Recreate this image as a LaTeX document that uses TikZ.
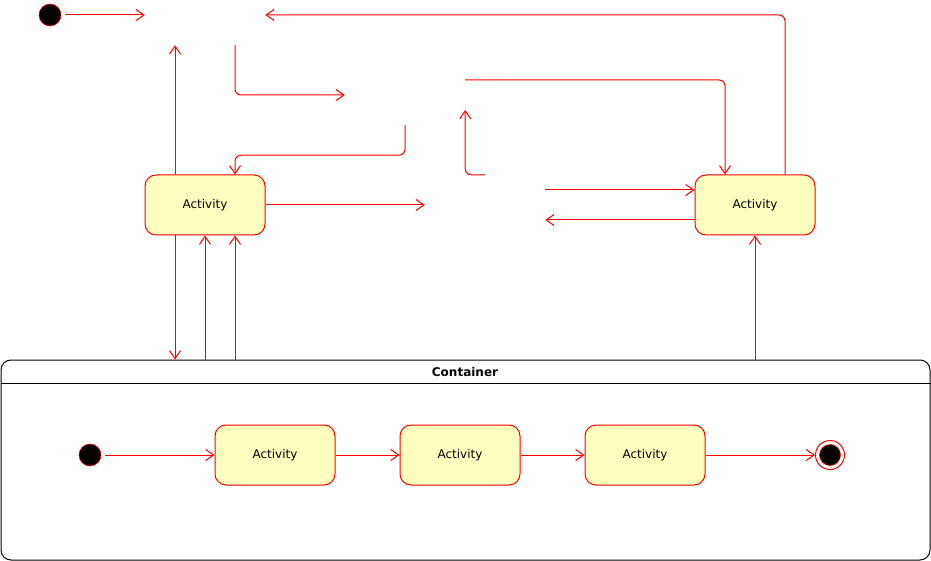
\documentclass[tikz,border=0pt]{standalone}
\usepackage{fontspec}
\setmainfont{DejaVu Sans}
\usetikzlibrary{arrows.meta}
\definecolor{actfill}{HTML}{FFFFC0}
\begin{document}
\begin{tikzpicture}[x=1pt,y=-1pt,
  flow/.style={draw=red, line width=1pt, rounded corners=6pt,
    -{Straight Barb[length=8pt,width=11pt,line width=1pt]}},
  act/.style={draw=red, fill=actfill, rounded corners=11pt, line width=1pt,
    minimum width=120pt, minimum height=60pt, inner sep=0pt,
    font=\fontsize{12}{14}\selectfont},
  ghost/.style={minimum width=120pt, minimum height=60pt, inner sep=0pt},
  startdot/.style={circle, fill=black, draw=red, line width=0.6pt,
    minimum size=22pt, inner sep=0pt},
]
\useasboundingbox (0,0) rectangle (931,561);

% invisible placeholder states
\node[ghost] (A) at (205,15) {};
\node[ghost] (B) at (405,95) {};
\node[ghost] (C) at (485,205) {};

% top-level states
\node[startdot] (s0) at (50,15) {};
\node[act] (act1) at (205,205) {Activity};
\node[act] (act2) at (755,205) {Activity};

% container
\node[draw, line width=1pt, rounded corners=10pt, minimum width=929pt,
  minimum height=200pt, inner sep=0pt] (cont) at (465.5,460) {};
\draw[line width=1pt] (cont.west |- 0,383) -- (cont.east |- 0,383);
\node[font=\fontsize{12}{14}\selectfont\bfseries] (ctitle) at (465,372) {Container};

\node[startdot] (s1) at (90,455) {};
\node[act] (a3) at (275,455) {Activity};
\node[act] (a4) at (460,455) {Activity};
\node[act] (a5) at (645,455) {Activity};
\node[circle, draw=red, line width=1pt, minimum size=29pt, inner sep=0pt] (fin) at (830,455) {};
\node[circle, fill=black, draw=red, line width=0.6pt, minimum size=21pt, inner sep=0pt] (findot) at (fin) {};

% connectors among top-level states
\draw[flow] ([xshift=4pt]s0.east) -- (A.west);
\draw[flow] ([xshift=30pt]act2.north) |- (A.east);
\draw[flow] ([xshift=-30pt]act1.north) -- ([xshift=-30pt]A.south);
\draw[flow] ([xshift=30pt]A.south) |- (B.west);
\draw[flow] ([yshift=15pt]B.east) -| ([xshift=-30pt]act2.north);
\draw[flow] (B.south) -- ++(0,30) -| ([xshift=30pt]act1.north);
\draw[flow] (C.north) -| ([yshift=-15pt]B.east);
\draw[flow] (act1.east) -- (C.west);
\draw[flow] ([yshift=15pt]C.east) -- ([yshift=15pt]act2.west);
\draw[flow] ([yshift=-15pt]act2.west) -- ([yshift=-15pt]C.east);

% connectors to and from the container
\draw[flow] ([xshift=-30pt]act1.south) -- ([xshift=-30pt]act1.south |- cont.north);
\draw[flow] (act1.south |- cont.north) -- (act1.south);
\draw[flow] ([xshift=30pt]act1.south |- cont.north) -- ([xshift=30pt]act1.south);
\draw[flow] (act2.south |- cont.north) -- (act2.south);

% connectors inside the container
\draw[flow] ([xshift=4pt]s1.east) -- (a3.west);
\draw[flow] (a3.east) -- (a4.west);
\draw[flow] (a4.east) -- (a5.west);
\draw[flow] (a5.east) -- (fin.west);
\end{tikzpicture}
\end{document}
